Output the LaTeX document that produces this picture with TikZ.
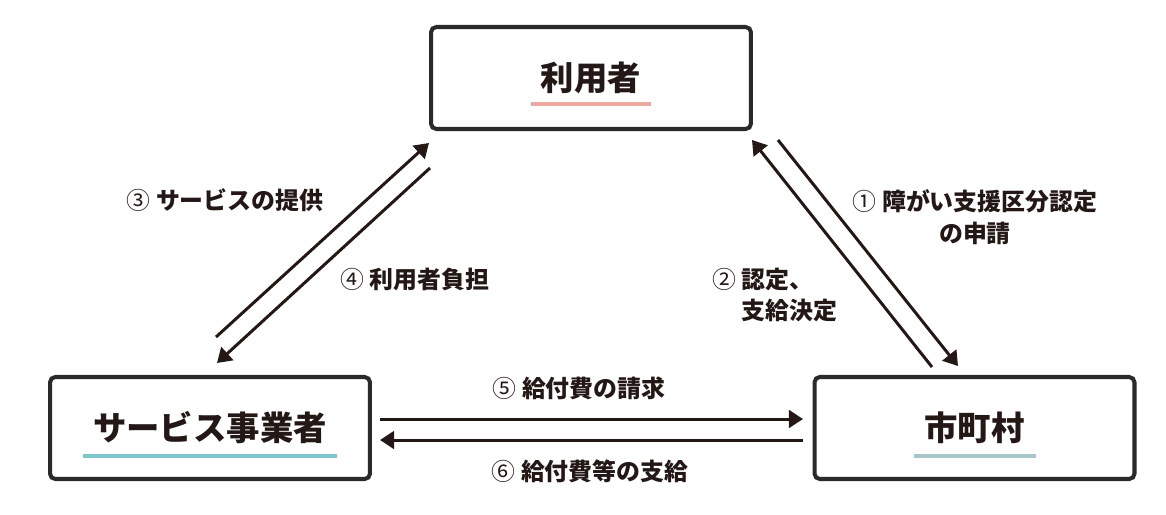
\documentclass[tikz,border=0pt]{standalone}
\usepackage{fontspec}
\usetikzlibrary{arrows.meta,calc}
\newfontfamily\jp{Noto Sans CJK JP}
\newcommand\num[1]{{\mdseries #1}}
\definecolor{ink}{HTML}{231815}
\definecolor{boxc}{HTML}{2A2A2A}
\definecolor{pinkc}{HTML}{E9A9A0}
\definecolor{tealc}{HTML}{7EC5CC}
\definecolor{grayc}{HTML}{A7C6C7}
\begin{document}
\begin{tikzpicture}[x=0.02cm, y=-0.02cm, text=ink,
		party/.style={draw=boxc, line width=2.3pt, rounded corners=3pt, minimum width=6.4cm, minimum height=2.04cm, inner sep=0pt, font=\jp\bfseries\fontsize{19}{23}\selectfont},
		flow/.style={line width=1.7pt, draw=ink, -{Triangle[length=8pt,width=10pt]}},
		tag/.style={inner sep=0pt, font=\jp\bfseries\fontsize{13.6}{18}\selectfont},
		uline/.style={line width=2.8pt}]
		\useasboundingbox (0,0) rectangle (1166,514);
		\node[party] (user) at (591,78) {利用者};
		\node[party] (prov) at (210,428) {サービス事業者};
		\node[party] (city) at (974.5,428) {市町村};
		\draw[uline, draw=pinkc] ($(user)+(-60,26)$) -- ($(user)+(60,26)$);
		\draw[uline, draw=tealc] ($(prov)+(-127,28)$) -- ($(prov)+(127,28)$);
		\draw[uline, draw=grayc] ($(city)+(-61,28)$) -- ($(city)+(61,28)$);
		\coordinate (P3a) at (216,337);
		\coordinate (P3b) at (429,143);
		\coordinate (P4a) at (430,168);
		\coordinate (P4b) at (217,363);
		\coordinate (P1a) at (778,140);
		\coordinate (P1b) at (958,366);
		\coordinate (P2a) at (932,367);
		\coordinate (P2b) at (752,140);
		\coordinate (P5a) at (380,419);
		\coordinate (P5b) at (803,419);
		\coordinate (P6a) at (803,440);
		\coordinate (P6b) at (380,440);
		\draw[flow] (P3a) -- (P3b);
		\draw[flow] (P4a) -- (P4b);
		\draw[flow] (P1a) -- (P1b);
		\draw[flow] (P2a) -- (P2b);
		\draw[flow] (P5a) -- (P5b);
		\draw[flow] (P6a) -- (P6b);
		\node[tag] (l3) at (225,200) {\num{③} サービスの提供};
		\node[tag] (l4) at (415,279) {\num{④} 利用者負担};
		\node[tag, align=center] (l1) at (975,217) {\num{①} 障がい支援区分認定\\の申請};
		\node[tag, align=left, anchor=west] (l2) at (712,295) {\num{②} 認定、\\\hphantom{\num{②}\ }支給決定};
		\node[tag] (l5) at (579,388) {\num{⑤} 給付費の請求};
		\node[tag] (l6) at (590,471) {\num{⑥} 給付費等の支給};
\end{tikzpicture}
\end{document}
